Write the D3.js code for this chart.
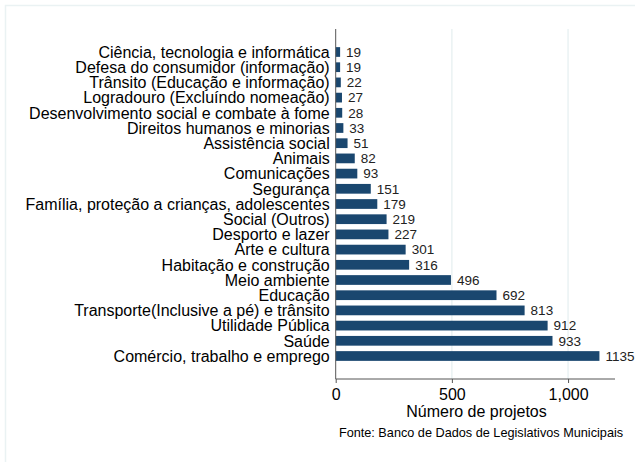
<!DOCTYPE html>
<html><head><meta charset="utf-8">
<script src="https://cdn.jsdelivr.net/npm/d3@7"></script>
<style>body{margin:0;background:#fff}svg{display:block;font-family:"Liberation Sans",Arial,sans-serif}</style>
</head><body>
<script>
const categories = [
  "Ciência, tecnologia e informática",
  "Defesa do consumidor (informação)",
  "Trânsito (Educação e informação)",
  "Logradouro (Excluíndo nomeação)",
  "Desenvolvimento social e combate à fome",
  "Direitos humanos e minorias",
  "Assistência social",
  "Animais",
  "Comunicações",
  "Segurança",
  "Família, proteção a crianças, adolescentes",
  "Social (Outros)",
  "Desporto e lazer",
  "Arte e cultura",
  "Habitação e construção",
  "Meio ambiente",
  "Educação",
  "Transporte(Inclusive a pé) e trânsito",
  "Utilidade Pública",
  "Saúde",
  "Comércio, trabalho e emprego"
];
const values = [19,19,22,27,28,33,51,82,93,151,179,219,227,301,316,496,692,813,912,933,1135];
const xTicks = [0,500,1000];
const xTitle = "Número de projetos";
const note = "Fonte: Banco de Dados de Legislativos Municipais";

const W = 635, H = 462;
const FONT = "Liberation Sans, Arial, sans-serif";
const svg = d3.select("body").append("svg").attr("width", W).attr("height", H);

// outer frame
svg.append("rect").attr("x",5.5).attr("y",5.5).attr("width",W).attr("height",H)
  .attr("fill","#fff").attr("stroke","#eaf2f3").attr("stroke-width",1.5);

const x0 = 335.7, x1 = 615, yTop = 29, yBot = 379;
const x = d3.scaleLinear().domain([0, 1202]).range([x0, x1]);
const y = d3.scaleBand().domain(categories).range([44.4, 363.6]).paddingInner(0.36).paddingOuter(0.18);

// gridlines
svg.append("g").selectAll("line").data(xTicks.filter(d=>d>0)).join("line")
  .attr("x1", d=>x(d)).attr("x2", d=>x(d)).attr("y1", yTop).attr("y2", yBot)
  .attr("stroke","#eaf2f3").attr("stroke-width",1.5);

// bars
svg.append("g").selectAll("rect").data(values).join("rect")
  .attr("x", x(0)).attr("y", (d,i)=>y(categories[i]))
  .attr("width", d=>x(d)-x(0)).attr("height", y.bandwidth())
  .attr("fill","#1a476f");

// value labels
svg.append("g").selectAll("text").data(values).join("text")
  .attr("x", d=>x(d)+6).attr("y", (d,i)=>y(categories[i])+y.bandwidth()/2)
  .attr("dy","0.36em").attr("font-size",13.5).attr("fill","#222").text(d=>d);

// y axis
const ya = svg.append("g").attr("transform",`translate(${x0},0)`)
  .call(d3.axisLeft(y).tickSize(0).tickPadding(6));
ya.select(".domain").attr("stroke","#555").attr("d",`M0,${yTop}V${yBot}`);
ya.selectAll("text").attr("font-size",16).attr("dy","0.36em").attr("fill","#000").attr("font-family",FONT);

// x axis
const xa = svg.append("g").attr("transform",`translate(0,${yBot})`)
  .call(d3.axisBottom(x).tickValues(xTicks).tickSize(4).tickPadding(6).tickFormat(d3.format(",")));
xa.select(".domain").attr("stroke","#555").attr("d",`M${x0},0H${x1}`);
xa.selectAll(".tick line").attr("stroke","#555");
xa.selectAll("text").attr("font-size",16).attr("fill","#000").attr("font-family",FONT);

svg.append("text").attr("x", 476.5).attr("y", 417).attr("text-anchor","middle")
  .attr("font-size",16).attr("fill","#000").text(xTitle);
svg.append("text").attr("x", 481).attr("y", 437).attr("text-anchor","middle")
  .attr("font-size",12.7).attr("fill","#000").text(note);
</script>
</body></html>
